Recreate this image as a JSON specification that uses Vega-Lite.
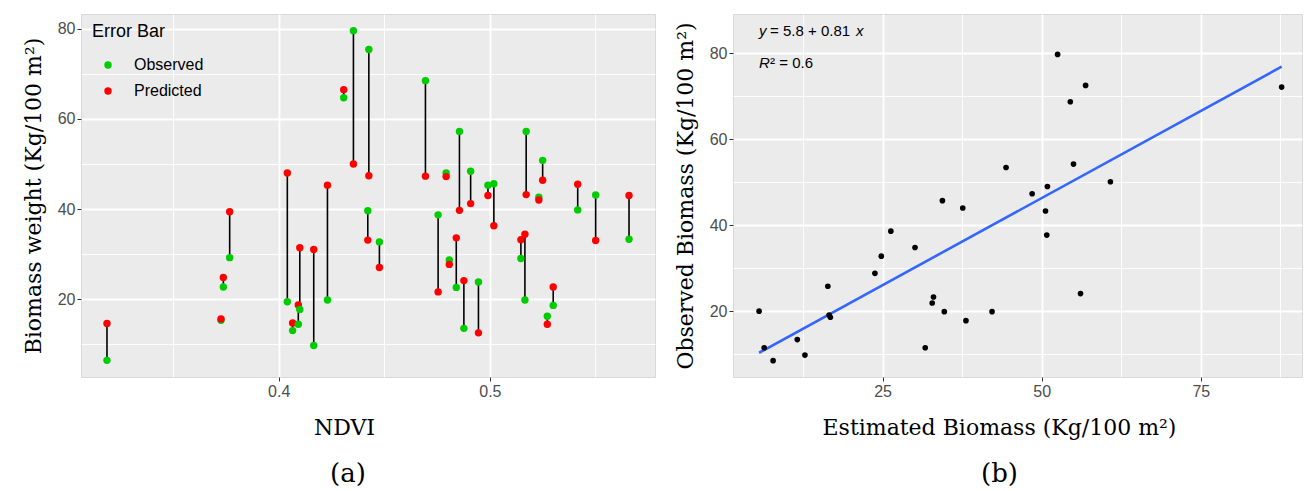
{
  "$schema": "https://vega.github.io/schema/vega-lite/v6.json",
  "padding": {"left": 21, "top": 13, "right": 3, "bottom": 0},
  "background": "white",
  "spacing": 17,
  "datasets": {
    "pairs": [
      {"NDVI": 0.3187, "Observed": 6.4, "Predicted": 14.6},
      {"NDVI": 0.3727, "Observed": 15.3, "Predicted": 15.6},
      {"NDVI": 0.3738, "Observed": 22.7, "Predicted": 24.8},
      {"NDVI": 0.3768, "Observed": 29.2, "Predicted": 39.4},
      {"NDVI": 0.4041, "Observed": 19.4, "Predicted": 48.0},
      {"NDVI": 0.4066, "Observed": 13.0, "Predicted": 14.7},
      {"NDVI": 0.4093, "Observed": 14.4, "Predicted": 18.7},
      {"NDVI": 0.4100, "Observed": 17.7, "Predicted": 31.4},
      {"NDVI": 0.4166, "Observed": 9.7, "Predicted": 31.0},
      {"NDVI": 0.4231, "Observed": 19.8, "Predicted": 45.3},
      {"NDVI": 0.4308, "Observed": 64.7, "Predicted": 66.5},
      {"NDVI": 0.4354, "Observed": 79.6, "Predicted": 50.0},
      {"NDVI": 0.4422, "Observed": 39.6, "Predicted": 33.1},
      {"NDVI": 0.4427, "Observed": 75.4, "Predicted": 47.4},
      {"NDVI": 0.4477, "Observed": 32.7, "Predicted": 27.0},
      {"NDVI": 0.4695, "Observed": 68.5, "Predicted": 47.3},
      {"NDVI": 0.4755, "Observed": 38.7, "Predicted": 21.6},
      {"NDVI": 0.4793, "Observed": 48.0, "Predicted": 47.2},
      {"NDVI": 0.4808, "Observed": 28.7, "Predicted": 27.7},
      {"NDVI": 0.4841, "Observed": 22.6, "Predicted": 33.6},
      {"NDVI": 0.4856, "Observed": 57.2, "Predicted": 39.7},
      {"NDVI": 0.4877, "Observed": 13.5, "Predicted": 24.1},
      {"NDVI": 0.4909, "Observed": 48.4, "Predicted": 41.2},
      {"NDVI": 0.4946, "Observed": 23.8, "Predicted": 12.5},
      {"NDVI": 0.4991, "Observed": 45.3, "Predicted": 43.0},
      {"NDVI": 0.5019, "Observed": 45.6, "Predicted": 36.3},
      {"NDVI": 0.5147, "Observed": 29.0, "Predicted": 33.2},
      {"NDVI": 0.5166, "Observed": 19.8, "Predicted": 34.4},
      {"NDVI": 0.5172, "Observed": 57.2, "Predicted": 43.2},
      {"NDVI": 0.5232, "Observed": 42.6, "Predicted": 42.0},
      {"NDVI": 0.5250, "Observed": 50.8, "Predicted": 46.4},
      {"NDVI": 0.5272, "Observed": 16.2, "Predicted": 14.4},
      {"NDVI": 0.5300, "Observed": 18.6, "Predicted": 22.7},
      {"NDVI": 0.5416, "Observed": 39.8, "Predicted": 45.5},
      {"NDVI": 0.5501, "Observed": 43.1, "Predicted": 33.0},
      {"NDVI": 0.5659, "Observed": 33.3, "Predicted": 43.0}
    ],
    "biomass": [
      {"Estimated": 44.4, "Observed": 53.4},
      {"Estimated": 34.4, "Observed": 45.7},
      {"Estimated": 52.5, "Observed": 79.7},
      {"Estimated": 56.9, "Observed": 72.5},
      {"Estimated": 54.5, "Observed": 68.7},
      {"Estimated": 55.0, "Observed": 54.2},
      {"Estimated": 48.5, "Observed": 47.3},
      {"Estimated": 50.9, "Observed": 49.0},
      {"Estimated": 60.8, "Observed": 50.1},
      {"Estimated": 87.7, "Observed": 72.1},
      {"Estimated": 50.6, "Observed": 43.3},
      {"Estimated": 50.8, "Observed": 37.7},
      {"Estimated": 56.1, "Observed": 24.1},
      {"Estimated": 37.6, "Observed": 44.0},
      {"Estimated": 26.3, "Observed": 38.6},
      {"Estimated": 30.1, "Observed": 34.8},
      {"Estimated": 24.8, "Observed": 32.8},
      {"Estimated": 23.8, "Observed": 28.8},
      {"Estimated": 16.4, "Observed": 25.8},
      {"Estimated": 33.0, "Observed": 23.3},
      {"Estimated": 32.8, "Observed": 21.9},
      {"Estimated": 5.6, "Observed": 20.0},
      {"Estimated": 34.7, "Observed": 19.9},
      {"Estimated": 42.2, "Observed": 19.9},
      {"Estimated": 16.6, "Observed": 19.1},
      {"Estimated": 16.8, "Observed": 18.6},
      {"Estimated": 38.1, "Observed": 17.8},
      {"Estimated": 11.6, "Observed": 13.4},
      {"Estimated": 6.4, "Observed": 11.5},
      {"Estimated": 31.7, "Observed": 11.5},
      {"Estimated": 12.8, "Observed": 9.8},
      {"Estimated": 7.8, "Observed": 8.5}
    ],
    "fit": [
      {"Estimated": 5.6, "Fitted": 10.34},
      {"Estimated": 87.7, "Fitted": 76.84}
    ]
  },
  "hconcat": [
    {
      "width": 574,
      "height": 363,
      "data": {"name": "pairs"},
      "title": {"text": "(a)", "orient": "bottom", "anchor": "middle", "dx": -20, "font": "DejaVu Serif", "fontSize": 26, "fontWeight": "normal", "color": "black", "offset": 23},
      "layer": [
        {
          "mark": {"type": "rule", "color": "black", "strokeWidth": 1.6},
          "encoding": {
            "x": {"field": "NDVI", "type": "quantitative",
              "scale": {"domain": [0.3064, 0.5782], "nice": false, "zero": false},
              "axis": {"title": "NDVI", "values": [0.35, 0.4, 0.45, 0.5, 0.55], "format": ".1f",
                "labelExpr": "abs(datum.value*10-round(datum.value*10))<0.001 ? datum.label : ''",
                "gridWidth": {"condition": {"test": "abs(datum.value*10-round(datum.value*10))<0.001", "value": 1.8}, "value": 0.9},
                "tickOpacity": {"condition": {"test": "abs(datum.value*10-round(datum.value*10))<0.001", "value": 1}, "value": 0},
                "titleX": 263, "titlePadding": 18}},
            "y": {"field": "Observed", "type": "quantitative",
              "scale": {"domain": [2.7, 83.3], "nice": false, "zero": false},
              "axis": {"title": "Biomass weight (Kg/100 m²)", "values": [10, 20, 30, 40, 50, 60, 70, 80],
                "labelExpr": "datum.value % 20 == 0 ? datum.label : ''",
                "gridWidth": {"condition": {"test": "datum.value % 20 == 0", "value": 1.8}, "value": 0.9},
                "tickOpacity": {"condition": {"test": "datum.value % 20 == 0", "value": 1}, "value": 0},
                "titlePadding": 12}},
            "y2": {"field": "Predicted"}
          }
        },
        {
          "transform": [{"fold": ["Observed", "Predicted"], "as": ["Series", "Biomass"]}],
          "mark": {"type": "point", "filled": true, "size": 55, "opacity": 1, "shape": "circle"},
          "encoding": {
            "x": {"field": "NDVI", "type": "quantitative", "axis": {"title": "NDVI"}},
            "y": {"field": "Biomass", "type": "quantitative", "axis": {"title": "Biomass weight (Kg/100 m²)"}},
            "color": {"field": "Series", "type": "nominal",
              "scale": {"domain": ["Observed", "Predicted"], "range": ["#00CD00", "#FF0000"]},
              "legend": {"title": "Error Bar", "orient": "none", "legendX": 11, "legendY": 9,
                "titleFont": "Liberation Sans", "titleFontSize": 18, "titleFontWeight": "normal", "titleColor": "black",
                "labelFont": "Liberation Sans", "labelFontSize": 16, "labelColor": "black",
                "symbolType": "circle", "symbolSize": 55, "symbolOffset": 8, "labelOffset": 18,
                "titlePadding": 16, "rowPadding": 10, "padding": 0}}
          }
        }
      ]
    },
    {
      "width": 569,
      "height": 363,
      "title": {"text": "(b)", "orient": "bottom", "anchor": "middle", "dx": -18, "font": "DejaVu Serif", "fontSize": 26, "fontWeight": "normal", "color": "black", "offset": 23},
      "layer": [
        {
          "data": {"name": "fit"},
          "mark": {"type": "line", "color": "#3366FF", "strokeWidth": 2.6},
          "encoding": {
            "x": {"field": "Estimated", "type": "quantitative",
              "scale": {"domain": [1.5, 90.9], "nice": false, "zero": false},
              "axis": {"title": "Estimated Biomass (Kg/100 m²)", "values": [12.5, 25, 37.5, 50, 62.5, 75, 87.5],
                "labelExpr": "datum.value % 25 == 0 ? datum.label : ''",
                "gridWidth": {"condition": {"test": "datum.value % 25 == 0", "value": 1.8}, "value": 0.9},
                "tickOpacity": {"condition": {"test": "datum.value % 25 == 0", "value": 1}, "value": 0},
                "titleX": 266, "titlePadding": 18}},
            "y": {"field": "Fitted", "type": "quantitative",
              "scale": {"domain": [4.7, 89.1], "nice": false, "zero": false},
              "axis": {"title": "Observed Biomass (Kg/100 m²)", "values": [10, 20, 30, 40, 50, 60, 70, 80],
                "labelExpr": "datum.value % 20 == 0 ? datum.label : ''",
                "gridWidth": {"condition": {"test": "datum.value % 20 == 0", "value": 1.8}, "value": 0.9},
                "tickOpacity": {"condition": {"test": "datum.value % 20 == 0", "value": 1}, "value": 0},
                "titlePadding": 12}}
          }
        },
        {
          "data": {"name": "biomass"},
          "mark": {"type": "point", "filled": true, "size": 32, "opacity": 1, "color": "black", "shape": "circle"},
          "encoding": {
            "x": {"field": "Estimated", "type": "quantitative", "axis": {"title": "Estimated Biomass (Kg/100 m²)"}},
            "y": {"field": "Observed", "type": "quantitative", "axis": {"title": "Observed Biomass (Kg/100 m²)"}}
          }
        },
        {
          "data": {"values": [{"t": "y"}]},
          "mark": {"type": "text", "font": "Liberation Sans", "fontSize": 15, "fontStyle": "italic", "align": "left", "baseline": "middle", "color": "black"},
          "encoding": {"x": {"datum": 5.6}, "y": {"datum": 85.2}, "text": {"field": "t"}}
        },
        {
          "data": {"values": [{"t": "= 5.8 + 0.81"}]},
          "mark": {"type": "text", "font": "Liberation Sans", "fontSize": 15, "align": "left", "baseline": "middle", "color": "black", "dx": 11},
          "encoding": {"x": {"datum": 5.6}, "y": {"datum": 85.2}, "text": {"field": "t"}}
        },
        {
          "data": {"values": [{"t": "x"}]},
          "mark": {"type": "text", "font": "Liberation Sans", "fontSize": 15, "fontStyle": "italic", "align": "left", "baseline": "middle", "color": "black", "dx": 97},
          "encoding": {"x": {"datum": 5.6}, "y": {"datum": 85.2}, "text": {"field": "t"}}
        },
        {
          "data": {"values": [{"t": "R"}]},
          "mark": {"type": "text", "font": "Liberation Sans", "fontSize": 15, "fontStyle": "italic", "align": "left", "baseline": "middle", "color": "black"},
          "encoding": {"x": {"datum": 5.6}, "y": {"datum": 77.6}, "text": {"field": "t"}}
        },
        {
          "data": {"values": [{"t": "² = 0.6"}]},
          "mark": {"type": "text", "font": "Liberation Sans", "fontSize": 15, "align": "left", "baseline": "middle", "color": "black", "dx": 11},
          "encoding": {"x": {"datum": 5.6}, "y": {"datum": 77.6}, "text": {"field": "t"}}
        }
      ]
    }
  ],
  "config": {
    "view": {"fill": "#EBEBEB", "stroke": "#D9D9D9", "strokeWidth": 1},
    "axis": {
      "domain": false, "grid": true, "gridColor": "#FFFFFF",
      "tickSize": 4, "tickColor": "#333333", "tickWidth": 1,
      "labelFont": "Liberation Sans", "labelFontSize": 16, "labelColor": "#4D4D4D", "labelPadding": 2,
      "titleFont": "DejaVu Serif", "titleFontSize": 22, "titleFontWeight": "normal", "titleColor": "#000000"
    },
    "title": {"font": "DejaVu Serif"}
  }
}
